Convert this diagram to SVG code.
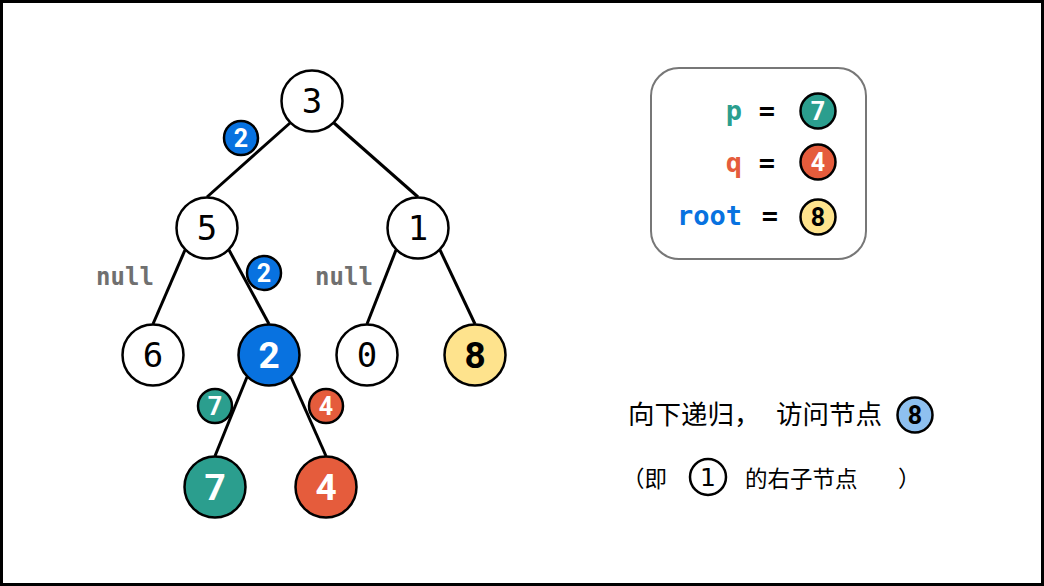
<svg xmlns="http://www.w3.org/2000/svg" width="1044" height="586" viewBox="0 0 1044 586">
<style>
.node{stroke:#000;stroke-width:2.5}
.w{fill:#fff}
.num{font-family:"DejaVu Sans Mono",monospace;font-size:34px;fill:#000;text-anchor:middle;dominant-baseline:central}
.bnum{font-family:Roboto,"DejaVu Sans",sans-serif;font-weight:bold;font-size:37px;fill:#fff;text-anchor:middle;dominant-baseline:central}
.snum{font-family:Roboto,"DejaVu Sans",sans-serif;font-weight:bold;font-size:25px;fill:#fff;text-anchor:middle;dominant-baseline:central}
.edge{stroke:#000;stroke-width:3;fill:none}
.null{font-family:"DejaVu Sans Mono",monospace;font-weight:bold;font-size:24px;fill:#707070;text-anchor:middle;dominant-baseline:central}
.leg{font-family:"DejaVu Sans Mono",monospace;font-weight:bold;font-size:27px;dominant-baseline:central}
.cjk{font-family:"Noto Sans CJK SC",sans-serif;fill:#000}
.blue{fill:#0872E0}.teal{fill:#2B9E8E}.red{fill:#E55C3C}.yel{fill:#FEE38D}.lblue{fill:#8EC0F0}
</style>
<rect x="1.5" y="1.5" width="1041" height="583" fill="#fff" stroke="#000" stroke-width="3"/>
<g id="connectors">
<line class="edge" x1="290" y1="123" x2="207" y2="197"/>
<line class="edge" x1="334" y1="123" x2="418" y2="197"/>
<line class="edge" x1="185" y1="250" x2="153" y2="324"/>
<line class="edge" x1="229" y1="250" x2="269" y2="324"/>
<line class="edge" x1="396" y1="250" x2="367" y2="324"/>
<line class="edge" x1="440" y1="250" x2="475" y2="324"/>
<line class="edge" x1="247" y1="377" x2="215" y2="456"/>
<line class="edge" x1="291" y1="377" x2="326" y2="456"/>
</g>
<g id="node-3"><circle class="node w" cx="312" cy="101" r="30.5"/><text class="num" x="312" y="101">3</text></g>
<g id="node-5"><circle class="node w" cx="207" cy="228" r="30.5"/><text class="num" x="207" y="228">5</text></g>
<g id="node-1"><circle class="node w" cx="418" cy="228" r="30.5"/><text class="num" x="418" y="228">1</text></g>
<g id="node-6"><circle class="node w" cx="153" cy="355" r="30.5"/><text class="num" x="153" y="355">6</text></g>
<g id="node-2"><circle class="node blue" cx="269" cy="355" r="30.5"/><text class="bnum" x="269" y="355">2</text></g>
<g id="node-0"><circle class="node w" cx="367" cy="355" r="30.5"/><text class="num" x="367" y="355">0</text></g>
<g id="node-8"><circle class="node yel" cx="475" cy="355" r="30.5"/><text class="bnum" x="475" y="355" style="fill:#000">8</text></g>
<g id="node-7"><circle class="node teal" cx="215" cy="487" r="30.5"/><text class="bnum" x="215" y="487">7</text></g>
<g id="node-4"><circle class="node red" cx="326" cy="487" r="30.5"/><text class="bnum" x="326" y="487">4</text></g>
<g id="badges">
<g id="badge-2a"><circle class="node blue" cx="241" cy="138" r="17"/><text class="snum" x="241" y="138">2</text></g>
<g id="badge-2b"><circle class="node blue" cx="264" cy="273" r="17"/><text class="snum" x="264" y="273">2</text></g>
<g id="badge-7"><circle class="node teal" cx="215" cy="406" r="17"/><text class="snum" x="215" y="406">7</text></g>
<g id="badge-4"><circle class="node red" cx="326" cy="406" r="17"/><text class="snum" x="326" y="406">4</text></g>
</g>
<text class="null" x="125" y="277">null</text>
<text class="null" x="344" y="277">null</text>
<g id="legend">
<rect x="651" y="68" width="215" height="191" rx="28" fill="#fff" stroke="#777" stroke-width="2"/>
<text class="leg teal" x="742" y="110" text-anchor="end">p</text>
<text class="leg" x="767" y="110" text-anchor="middle" fill="#000">=</text>
<circle class="node teal" cx="818" cy="111" r="17.5"/><text class="snum" x="818" y="111">7</text>
<text class="leg red" x="742" y="162" text-anchor="end">q</text>
<text class="leg" x="767" y="162" text-anchor="middle" fill="#000">=</text>
<circle class="node red" cx="818" cy="162" r="17.5"/><text class="snum" x="818" y="162">4</text>
<text class="leg blue" x="742" y="215" text-anchor="end">root</text>
<text class="leg" x="770" y="215" text-anchor="middle" fill="#000">=</text>
<circle class="node yel" cx="818" cy="217" r="17.5"/><text class="snum" x="818" y="217" style="fill:#000">8</text>
</g>
<g id="caption">
<text class="cjk" x="628" y="424" font-size="26.5">向下递归，</text>
<text class="cjk" x="776" y="424" font-size="26.5">访问节点</text>
<circle class="node lblue" cx="915" cy="415" r="17.5"/><text class="snum" x="915" y="415" style="fill:#000">8</text>
<text class="cjk" x="622" y="487" font-size="22.5">（即</text>
<circle class="node w" cx="708" cy="477" r="18" stroke-width="2"/><text class="num" x="708" y="477" style="font-family:'DejaVu Sans',sans-serif;font-size:25px">1</text>
<text class="cjk" x="745" y="487" font-size="22.5">的右子节点</text>
<text class="cjk" x="898" y="487" font-size="22.5">）</text>
</g>
</svg>
